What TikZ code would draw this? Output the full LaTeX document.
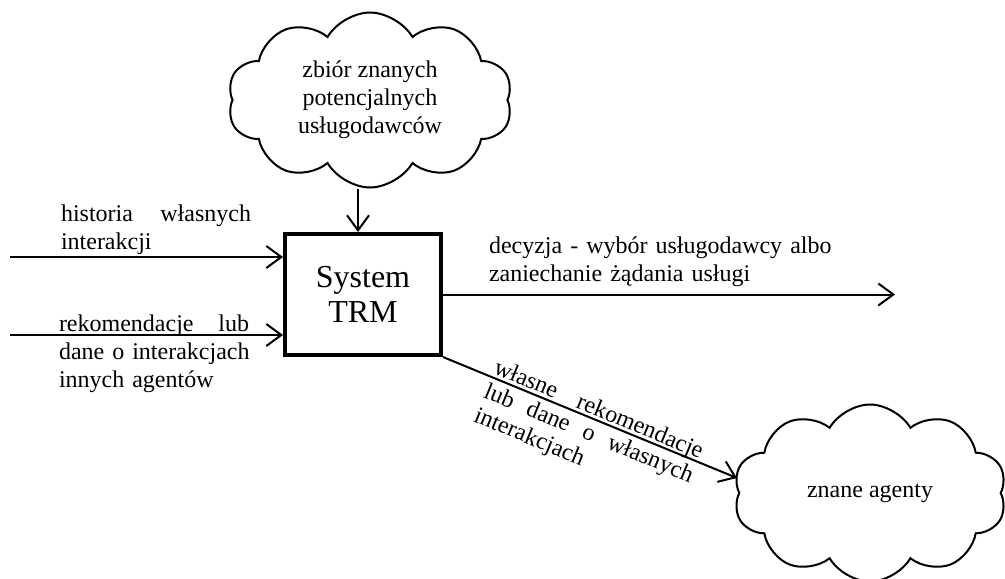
\documentclass[tikz,border=0pt]{standalone}
\usepackage{fontspec}
\setmainfont{Liberation Serif}
\usetikzlibrary{shapes.symbols,arrows.meta,calc}
\begin{document}
\begin{tikzpicture}[x=0.5pt,y=-0.5pt,line width=1pt,
  flow/.style={-{Straight Barb[length=7.5pt,width=11pt]}},
  blob/.style={draw,cloud,cloud puffs=10,cloud puff arc=120,cloud ignores aspect,inner sep=0pt,
    font=\fontsize{12}{14}\selectfont,align=center},
  txt/.style={font=\fontsize{12}{14}\selectfont,inner sep=0pt,anchor=base west}]
\useasboundingbox (0,0) rectangle (1005,578);
% clouds
\node[blob,minimum width=142.5pt,minimum height=87.5pt] (pool) at (370,100) {zbiór znanych\\potencjalnych\\usługodawców};
\node[blob,minimum width=136.5pt,minimum height=88.5pt] (agents) at (870,493) {znane agenty};
% system
\node[draw,line width=2pt,minimum width=78pt,minimum height=60.5pt,font=\fontsize{16}{17.5}\selectfont,align=center] (trm) at (363,294.5) {System\\TRM};
% connectors
\coordinate (hin) at (10,257);
\coordinate (rin) at (10,335);
\coordinate (dout) at (895,0);
\coordinate (drop) at (358,0);
\coordinate (agin) at (737,478);
\draw[flow] (pool.south -| drop) -- (trm.north -| drop);
\draw[flow] (hin) -- (hin -| trm.west);
\draw[flow] (rin) -- (rin -| trm.west);
\draw[flow] (trm.east) -- (trm.east -| dout);
\draw[flow] (trm.south east) -- (agin);
% labels
\node[txt,text width=95pt] (histlbl) at (60,221.7) {historia\hfill własnych\\interakcji};
\node[txt,text width=95pt] (reclbl) at (58,331.7) {rekomendacje\hfill lub\\\mbox{dane o interakcjach}\\innych agentów};
\node[txt,text width=170pt,align=left] (declbl) at (488,253) {\mbox{decyzja - wybór usługodawcy albo}\\zaniechanie żądania usługi};
\coordinate (fbk) at ($(trm.south east)!25.5pt!(agin)$);
\node[txt,text width=112pt,rotate=-22.5,font=\fontsize{12}{13}\selectfont] (fbklbl) at ($(fbk)!2pt!90:(agin)$) {własne\hfill rekomendacje\\lub\hfill dane\hfill o\hfill własnych\\interakcjach};
\end{tikzpicture}
\end{document}
